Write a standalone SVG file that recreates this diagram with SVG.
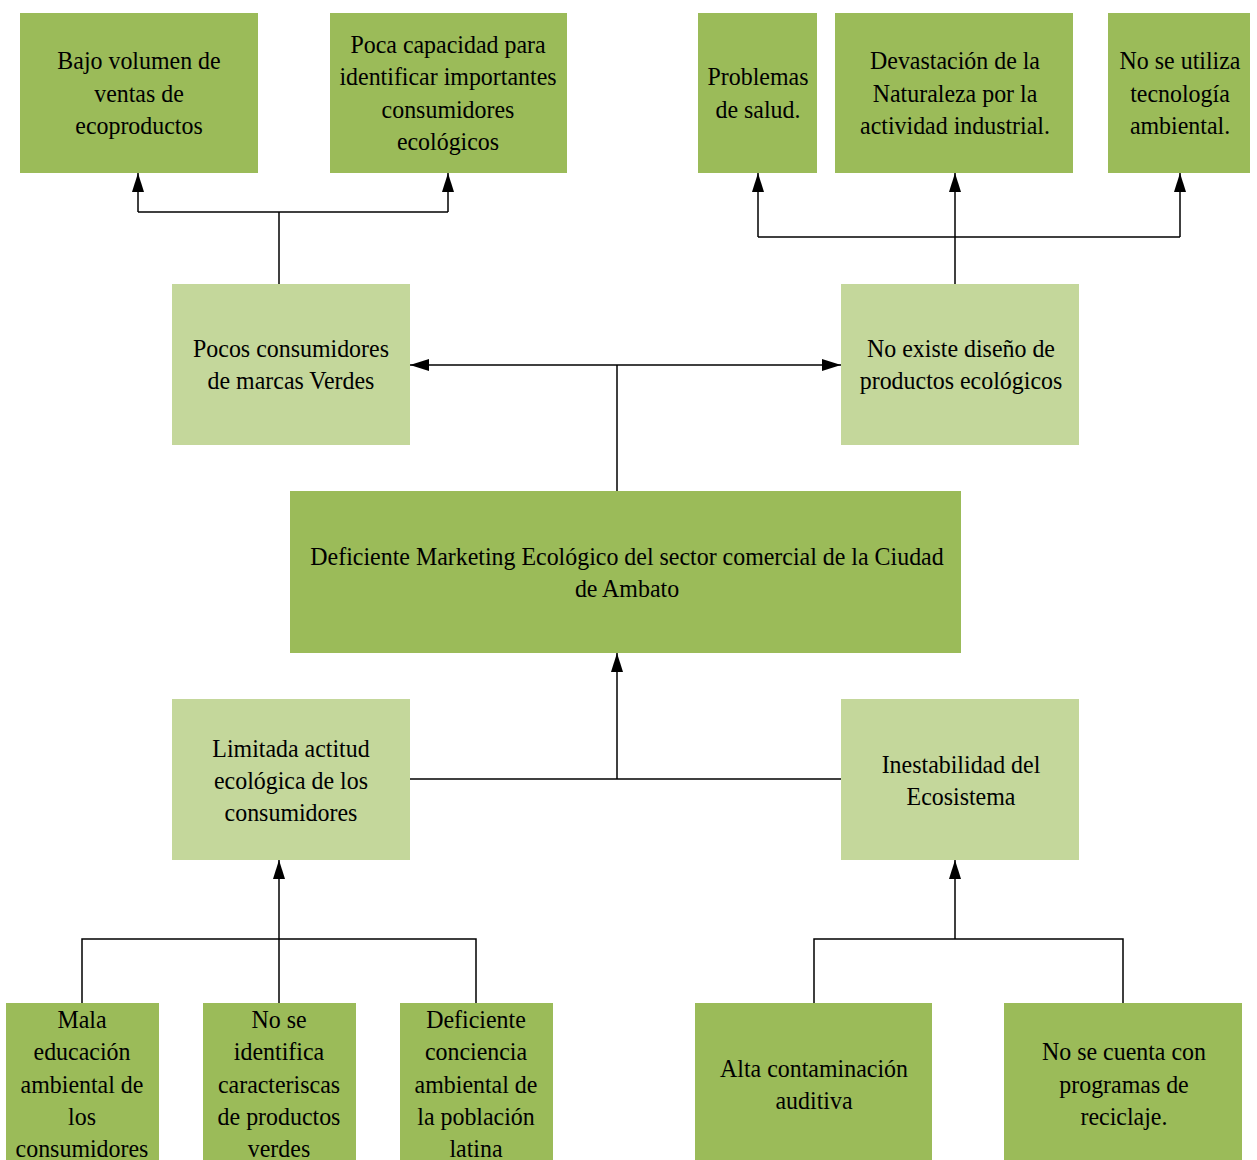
<svg xmlns="http://www.w3.org/2000/svg" width="1257" height="1160" viewBox="0 0 1257 1160">
<defs>
<style>
.dk{fill:#9BBB59}
.lt{fill:#C4D79B}
.t{font-family:"Liberation Serif","Times New Roman",serif;font-size:26px;fill:#000;text-anchor:middle}
.ln{fill:none;stroke:#000;stroke-width:1.5}
</style>
<marker id="ah" markerWidth="19" markerHeight="12" refX="19" refY="6" orient="auto" markerUnits="userSpaceOnUse">
<path d="M0,0 L19,6 L0,12 Z" fill="#000"/>
</marker>
</defs>
<rect width="1257" height="1160" fill="#fff"/>

<g id="connectors">
<path class="ln" d="M279,284 V212"/>
<path class="ln" d="M138,212 H448"/>
<path class="ln" d="M138,212 V173" marker-end="url(#ah)"/>
<path class="ln" d="M448,212 V173" marker-end="url(#ah)"/>

<path class="ln" d="M955,284 V173" marker-end="url(#ah)"/>
<path class="ln" d="M758,237 H1180"/>
<path class="ln" d="M758,237 V173" marker-end="url(#ah)"/>
<path class="ln" d="M1180,237 V173" marker-end="url(#ah)"/>

<path class="ln" d="M617,491 V365"/>
<path class="ln" d="M617,365 H410" marker-end="url(#ah)"/>
<path class="ln" d="M617,365 H841" marker-end="url(#ah)"/>

<path class="ln" d="M410,779 H841"/>
<path class="ln" d="M617,779 V653" marker-end="url(#ah)"/>

<path class="ln" d="M279,1003 V860" marker-end="url(#ah)"/>
<path class="ln" d="M82,1003 V939 H476 V1003"/>

<path class="ln" d="M955,939 V860" marker-end="url(#ah)"/>
<path class="ln" d="M814,1003 V939 H1123 V1003"/>
</g>

<g id="n1"><rect class="dk" x="20" y="13" width="238" height="160"/>
<g transform="translate(139,0) scale(0.92,1)"><text class="t"><tspan x="0" y="69">Bajo volumen de</tspan><tspan x="0" y="102">ventas de</tspan><tspan x="0" y="134">ecoproductos</tspan></text></g></g>

<g id="n2"><rect class="dk" x="330" y="13" width="237" height="160"/>
<g transform="translate(448,0) scale(0.92,1)"><text class="t"><tspan x="0" y="53">Poca capacidad para</tspan><tspan x="0" y="85">identificar importantes</tspan><tspan x="0" y="118">consumidores</tspan><tspan x="0" y="150">ecológicos</tspan></text></g></g>

<g id="n3"><rect class="dk" x="698" y="13" width="119" height="160"/>
<g transform="translate(758,0) scale(0.92,1)"><text class="t"><tspan x="0" y="85">Problemas</tspan><tspan x="0" y="118">de salud.</tspan></text></g></g>

<g id="n4"><rect class="dk" x="835" y="13" width="238" height="160"/>
<g transform="translate(955,0) scale(0.92,1)"><text class="t"><tspan x="0" y="69">Devastación de la</tspan><tspan x="0" y="102">Naturaleza por la</tspan><tspan x="0" y="134">actividad industrial.</tspan></text></g></g>

<g id="n5"><rect class="dk" x="1108" y="13" width="142" height="160"/>
<g transform="translate(1180,0) scale(0.92,1)"><text class="t"><tspan x="0" y="69">No se utiliza</tspan><tspan x="0" y="102">tecnología</tspan><tspan x="0" y="134">ambiental.</tspan></text></g></g>

<g id="n6"><rect class="lt" x="172" y="284" width="238" height="161"/>
<g transform="translate(291,0) scale(0.92,1)"><text class="t"><tspan x="0" y="357">Pocos consumidores</tspan><tspan x="0" y="389">de marcas Verdes</tspan></text></g></g>

<g id="n7"><rect class="lt" x="841" y="284" width="238" height="161"/>
<g transform="translate(961,0) scale(0.92,1)"><text class="t"><tspan x="0" y="357">No existe diseño de</tspan><tspan x="0" y="389">productos ecológicos</tspan></text></g></g>

<g id="n8"><rect class="dk" x="290" y="491" width="671" height="162"/>
<g transform="translate(627,0) scale(0.92,1)"><text class="t"><tspan x="0" y="565">Deficiente Marketing Ecológico del sector comercial de la Ciudad</tspan><tspan x="0" y="597">de Ambato</tspan></text></g></g>

<g id="n9"><rect class="lt" x="172" y="699" width="238" height="161"/>
<g transform="translate(291,0) scale(0.92,1)"><text class="t"><tspan x="0" y="757">Limitada actitud</tspan><tspan x="0" y="789">ecológica de los</tspan><tspan x="0" y="821">consumidores</tspan></text></g></g>

<g id="n10"><rect class="lt" x="841" y="699" width="238" height="161"/>
<g transform="translate(961,0) scale(0.92,1)"><text class="t"><tspan x="0" y="773">Inestabilidad del</tspan><tspan x="0" y="805">Ecosistema</tspan></text></g></g>

<g id="n11"><rect class="dk" x="6" y="1003" width="153" height="160"/>
<g transform="translate(82,0) scale(0.92,1)"><text class="t"><tspan x="0" y="1028">Mala</tspan><tspan x="0" y="1060">educación</tspan><tspan x="0" y="1093">ambiental de</tspan><tspan x="0" y="1125">los</tspan><tspan x="0" y="1157">consumidores</tspan></text></g></g>

<g id="n12"><rect class="dk" x="203" y="1003" width="153" height="160"/>
<g transform="translate(279,0) scale(0.92,1)"><text class="t"><tspan x="0" y="1028">No se</tspan><tspan x="0" y="1060">identifica</tspan><tspan x="0" y="1093">caracteriscas</tspan><tspan x="0" y="1125">de productos</tspan><tspan x="0" y="1157">verdes</tspan></text></g></g>

<g id="n13"><rect class="dk" x="400" y="1003" width="153" height="160"/>
<g transform="translate(476,0) scale(0.92,1)"><text class="t"><tspan x="0" y="1028">Deficiente</tspan><tspan x="0" y="1060">conciencia</tspan><tspan x="0" y="1093">ambiental de</tspan><tspan x="0" y="1125">la población</tspan><tspan x="0" y="1157">latina</tspan></text></g></g>

<g id="n14"><rect class="dk" x="695" y="1003" width="237" height="160"/>
<g transform="translate(814,0) scale(0.92,1)"><text class="t"><tspan x="0" y="1077">Alta contaminación</tspan><tspan x="0" y="1109">auditiva</tspan></text></g></g>

<g id="n15"><rect class="dk" x="1004" y="1003" width="238" height="160"/>
<g transform="translate(1124,0) scale(0.92,1)"><text class="t"><tspan x="0" y="1060">No se cuenta con</tspan><tspan x="0" y="1093">programas de</tspan><tspan x="0" y="1125">reciclaje.</tspan></text></g></g>
</svg>
